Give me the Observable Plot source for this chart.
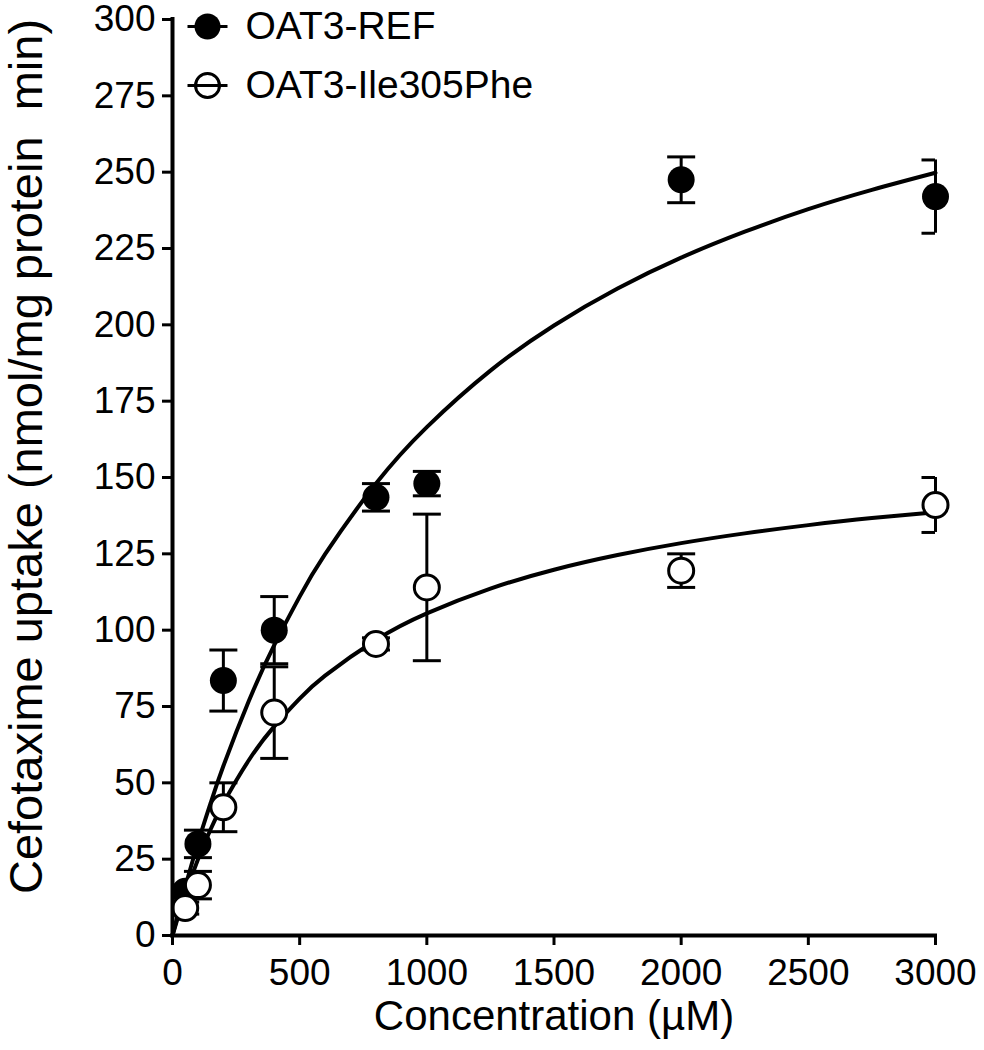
<!DOCTYPE html>
<html><head><meta charset="utf-8">
<script src="https://cdn.jsdelivr.net/npm/d3@7"></script>
<script src="https://cdn.jsdelivr.net/npm/@observablehq/plot@0.6"></script>
<style>body{margin:0;background:#fff;}</style>
</head><body><div id="chart"></div>
<script>
const concentrations = [50, 100, 200, 400, 800, 1000, 2000, 3000];
const refMean = [14.5, 30, 83.5, 100, 143.5, 148, 247.5, 242];
const refErr  = [2, 4.5, 10, 11, 4.5, 4, 7.5, 12];
const mutMean = [9, 16.5, 42, 73, 95.5, 114, 119.5, 141];
const mutErr  = [2, 4.5, 8, 15, 2, 24, 5.5, 9];

// Fitted curves
const fitX   = [0, 25, 50, 100, 150, 200, 300, 400, 500, 600, 800, 1000, 1250, 1500, 1750, 2000, 2250, 2500, 2750, 3000];
const fitRef = [0, 8.1, 15.9, 30.3, 43.4, 55.5, 76.8, 95.1, 111, 124.9, 148, 166.5, 185, 199.8, 211.9, 222, 230.5, 237.9, 244.2, 249.8];
const fitMut = [0, 7.0, 13.5, 24.9, 34.8, 43.3, 57.4, 68.5, 77.6, 85.1, 96.8, 105.5, 113.6, 119.8, 124.6, 128.5, 131.7, 134.4, 136.7, 138.6];

const seriesNames = ["OAT3-REF", "OAT3-Ile305Phe"];
const xTicks = [0, 500, 1000, 1500, 2000, 2500, 3000];
const yTicks = [0, 25, 50, 75, 100, 125, 150, 175, 200, 225, 250, 275, 300];
const xTitle = "Concentration (\u00b5M)";
const yTitle = "Cefotaxime uptake (nmol/mg protein  min)";

const points = [];
concentrations.forEach((c, i) => {
  points.push({series: seriesNames[0], x: c, y: refMean[i], lo: refMean[i] - refErr[i], hi: refMean[i] + refErr[i]});
  points.push({series: seriesNames[1], x: c, y: mutMean[i], lo: mutMean[i] - mutErr[i], hi: mutMean[i] + mutErr[i]});
});
const caps = points.flatMap(p => [{x: p.x, y: p.lo}, {x: p.x, y: p.hi}]);
const fits = [
  ...fitX.map((x, i) => ({series: seriesNames[0], x, y: fitRef[i]})),
  ...fitX.map((x, i) => ({series: seriesNames[1], x, y: fitMut[i]}))
];

const hline = {draw(ctx, size) { const r = Math.sqrt(size / Math.PI); ctx.moveTo(-r, 0); ctx.lineTo(r, 0); }};

const chart = Plot.plot({
  width: 984,
  height: 1050,
  marginLeft: 172,
  marginRight: 49,
  marginTop: 19,
  marginBottom: 115,
  style: {fontFamily: "'Liberation Sans', Arial, sans-serif", background: "white", color: "black"},
  x: {domain: [0, 3000]},
  y: {domain: [0, 300]},
  marks: [
    Plot.axisX({ticks: xTicks, tickSize: 10, tickPadding: 13, fontSize: 37, strokeWidth: 3, tickFormat: d => String(d), label: null}),
    Plot.axisY({ticks: yTicks, tickSize: 10, tickPadding: 7, fontSize: 37, strokeWidth: 3, tickFormat: d => String(d), label: null}),
    Plot.text([xTitle], {frameAnchor: "bottom", text: d => d, dy: 81, lineAnchor: "middle", fontSize: 42}),
    Plot.text([yTitle], {frameAnchor: "left", text: d => d, rotate: -90, dx: -146, dy: -21, textAnchor: "middle", lineAnchor: "middle", fontSize: 47}),
    Plot.line(fits, {x: "x", y: "y", z: "series", curve: "natural", stroke: "black", strokeWidth: 4}),
    Plot.ruleX(points, {x: "x", y1: "lo", y2: "hi", stroke: "black", strokeWidth: 3}),
    Plot.dot(caps, {x: "x", y: "y", symbol: hline, r: 14, stroke: "black", strokeWidth: 3, fill: "none", clip: true}),
    Plot.dot(points.filter(p => p.series === seriesNames[0]), {x: "x", y: "y", r: 13.5, fill: "black", stroke: "none"}),
    Plot.dot(points.filter(p => p.series === seriesNames[1]), {x: "x", y: "y", r: 12.5, fill: "white", stroke: "black", strokeWidth: 3}),
    Plot.ruleY([0], {strokeWidth: 4, strokeLinecap: "square"}),
    Plot.ruleX([0], {strokeWidth: 4, strokeLinecap: "square"}),
    // legend
    Plot.dot([seriesNames[0]], {frameAnchor: "top-left", dx: 35, dy: 7, symbol: hline, r: 20, stroke: "black", strokeWidth: 3, fill: "none"}),
    Plot.dot([seriesNames[0]], {frameAnchor: "top-left", dx: 35, dy: 7, r: 13, fill: "black", stroke: "none"}),
    Plot.text([seriesNames[0]], {frameAnchor: "top-left", text: d => d, dx: 73, dy: 7, textAnchor: "start", lineAnchor: "middle", fontSize: 39}),
    Plot.dot([seriesNames[1]], {frameAnchor: "top-left", dx: 35, dy: 66, symbol: hline, r: 20, stroke: "black", strokeWidth: 3, fill: "none"}),
    Plot.dot([seriesNames[1]], {frameAnchor: "top-left", dx: 35, dy: 66, r: 12, fill: "none", stroke: "black", strokeWidth: 3}),
    Plot.text([seriesNames[1]], {frameAnchor: "top-left", text: d => d, dx: 73, dy: 66, textAnchor: "start", lineAnchor: "middle", fontSize: 39})
  ]
});
document.getElementById("chart").append(chart);
</script>
</body></html>
